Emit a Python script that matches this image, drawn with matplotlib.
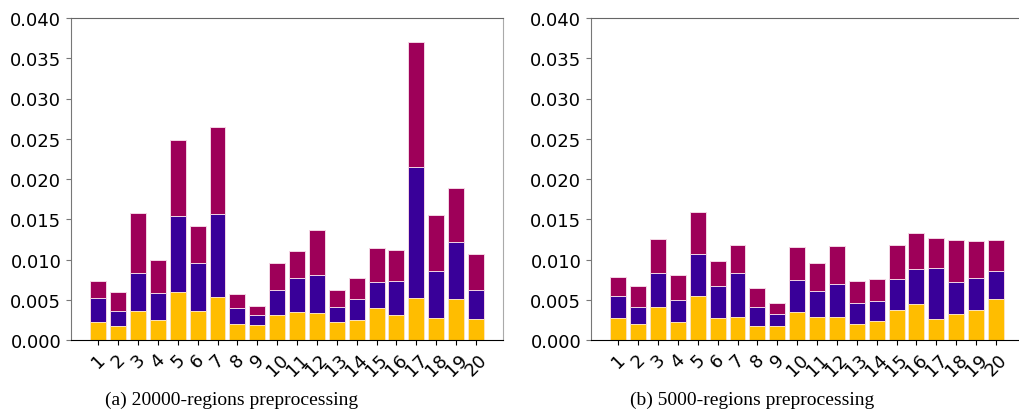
import matplotlib
matplotlib.use('Agg')
import matplotlib.pyplot as plt
import numpy as np

# categories (20 regions)
labels = [str(i) for i in range(1, 21)]

# (a) 20000-regions: cumulative levels
a_low = [0.00224, 0.00174, 0.00360, 0.00249, 0.00596, 0.00356, 0.00530, 0.00195, 0.00182, 0.00307,
         0.00344, 0.00336, 0.00220, 0.00253, 0.00402, 0.00315, 0.00522, 0.00269, 0.00514, 0.00261]
a_mid = [0.00522, 0.00365, 0.00833, 0.00588, 0.01541, 0.00953, 0.01570, 0.00393, 0.00311, 0.00617,
         0.00766, 0.00812, 0.00414, 0.00505, 0.00717, 0.00733, 0.02149, 0.00862, 0.01218, 0.00621]
a_top = [0.00729, 0.00600, 0.01578, 0.00990, 0.02480, 0.01420, 0.02646, 0.00576, 0.00427, 0.00953,
         0.01102, 0.01367, 0.00621, 0.00766, 0.01147, 0.01114, 0.03700, 0.01553, 0.01892, 0.01069]

# (b) 5000-regions
b_low = [0.00269, 0.00195, 0.00414, 0.00224, 0.00543, 0.00278, 0.00290, 0.00174, 0.00174, 0.00348,
         0.00282, 0.00290, 0.00203, 0.00232, 0.00373, 0.00447, 0.00265, 0.00323, 0.00373, 0.00514]
b_mid = [0.00543, 0.00414, 0.00837, 0.00497, 0.01069, 0.00671, 0.00828, 0.00410, 0.00323, 0.00750,
         0.00613, 0.00692, 0.00460, 0.00489, 0.00762, 0.00878, 0.00890, 0.00717, 0.00766, 0.00853]
b_top = [0.00787, 0.00675, 0.01259, 0.00812, 0.01595, 0.00982, 0.01185, 0.00642, 0.00456, 0.01151,
         0.00953, 0.01164, 0.00733, 0.00758, 0.01176, 0.01334, 0.01272, 0.01238, 0.01226, 0.01243]

captions = ['(a) 20000-regions preprocessing', '(b) 5000-regions preprocessing']

c_low, c_mid, c_top = '#ffbd00', '#390099', '#9e0059'

fig = plt.figure(figsize=(10.19, 4.14), dpi=100)
ax0 = fig.add_axes([71 / 1019, 73 / 414, 432 / 1019, 322 / 414])
ax1 = fig.add_axes([591 / 1019, 73 / 414, 432 / 1019, 322 / 414])

x = np.arange(1, 21)

for ax, low, mid, top in [(ax0, a_low, a_mid, a_top), (ax1, b_low, b_mid, b_top)]:
    # draw back to front, each bar from zero
    ax.bar(x, top, width=0.8, color=c_top, edgecolor='#f4d6e4', linewidth=0.7)
    ax.bar(x, mid, width=0.8, color=c_mid, edgecolor='#f4d6e4', linewidth=0.7)
    ax.bar(x, low, width=0.8, color=c_low, edgecolor='#fbe3c0', linewidth=0.7)
    ax.set_xlim(-0.37, 21.36)
    ax.set_ylim(0, 0.04)
    ax.set_xticks(x)
    ax.set_xticklabels(labels, rotation=45, fontsize=13)
    ax.set_yticks(np.arange(0, 0.0401, 0.005))
    ax.set_yticklabels(['%.3f' % v for v in np.arange(0, 0.0401, 0.005)], fontsize=13)
    ax.spines['top'].set_color('#666666')
    ax.spines['left'].set_color('#777777')
    ax.spines['right'].set_color('#aaaaaa')
    ax.spines['bottom'].set_color('black')
    ax.tick_params(axis='y', color='#777777')

fig.text(105 / 1019, 1 - 400 / 414, captions[0], family='Liberation Serif', fontsize=14, va='center')
fig.text(630 / 1019, 1 - 400 / 414, captions[1], family='Liberation Serif', fontsize=14, va='center')

plt.savefig('out.png', dpi=100)
